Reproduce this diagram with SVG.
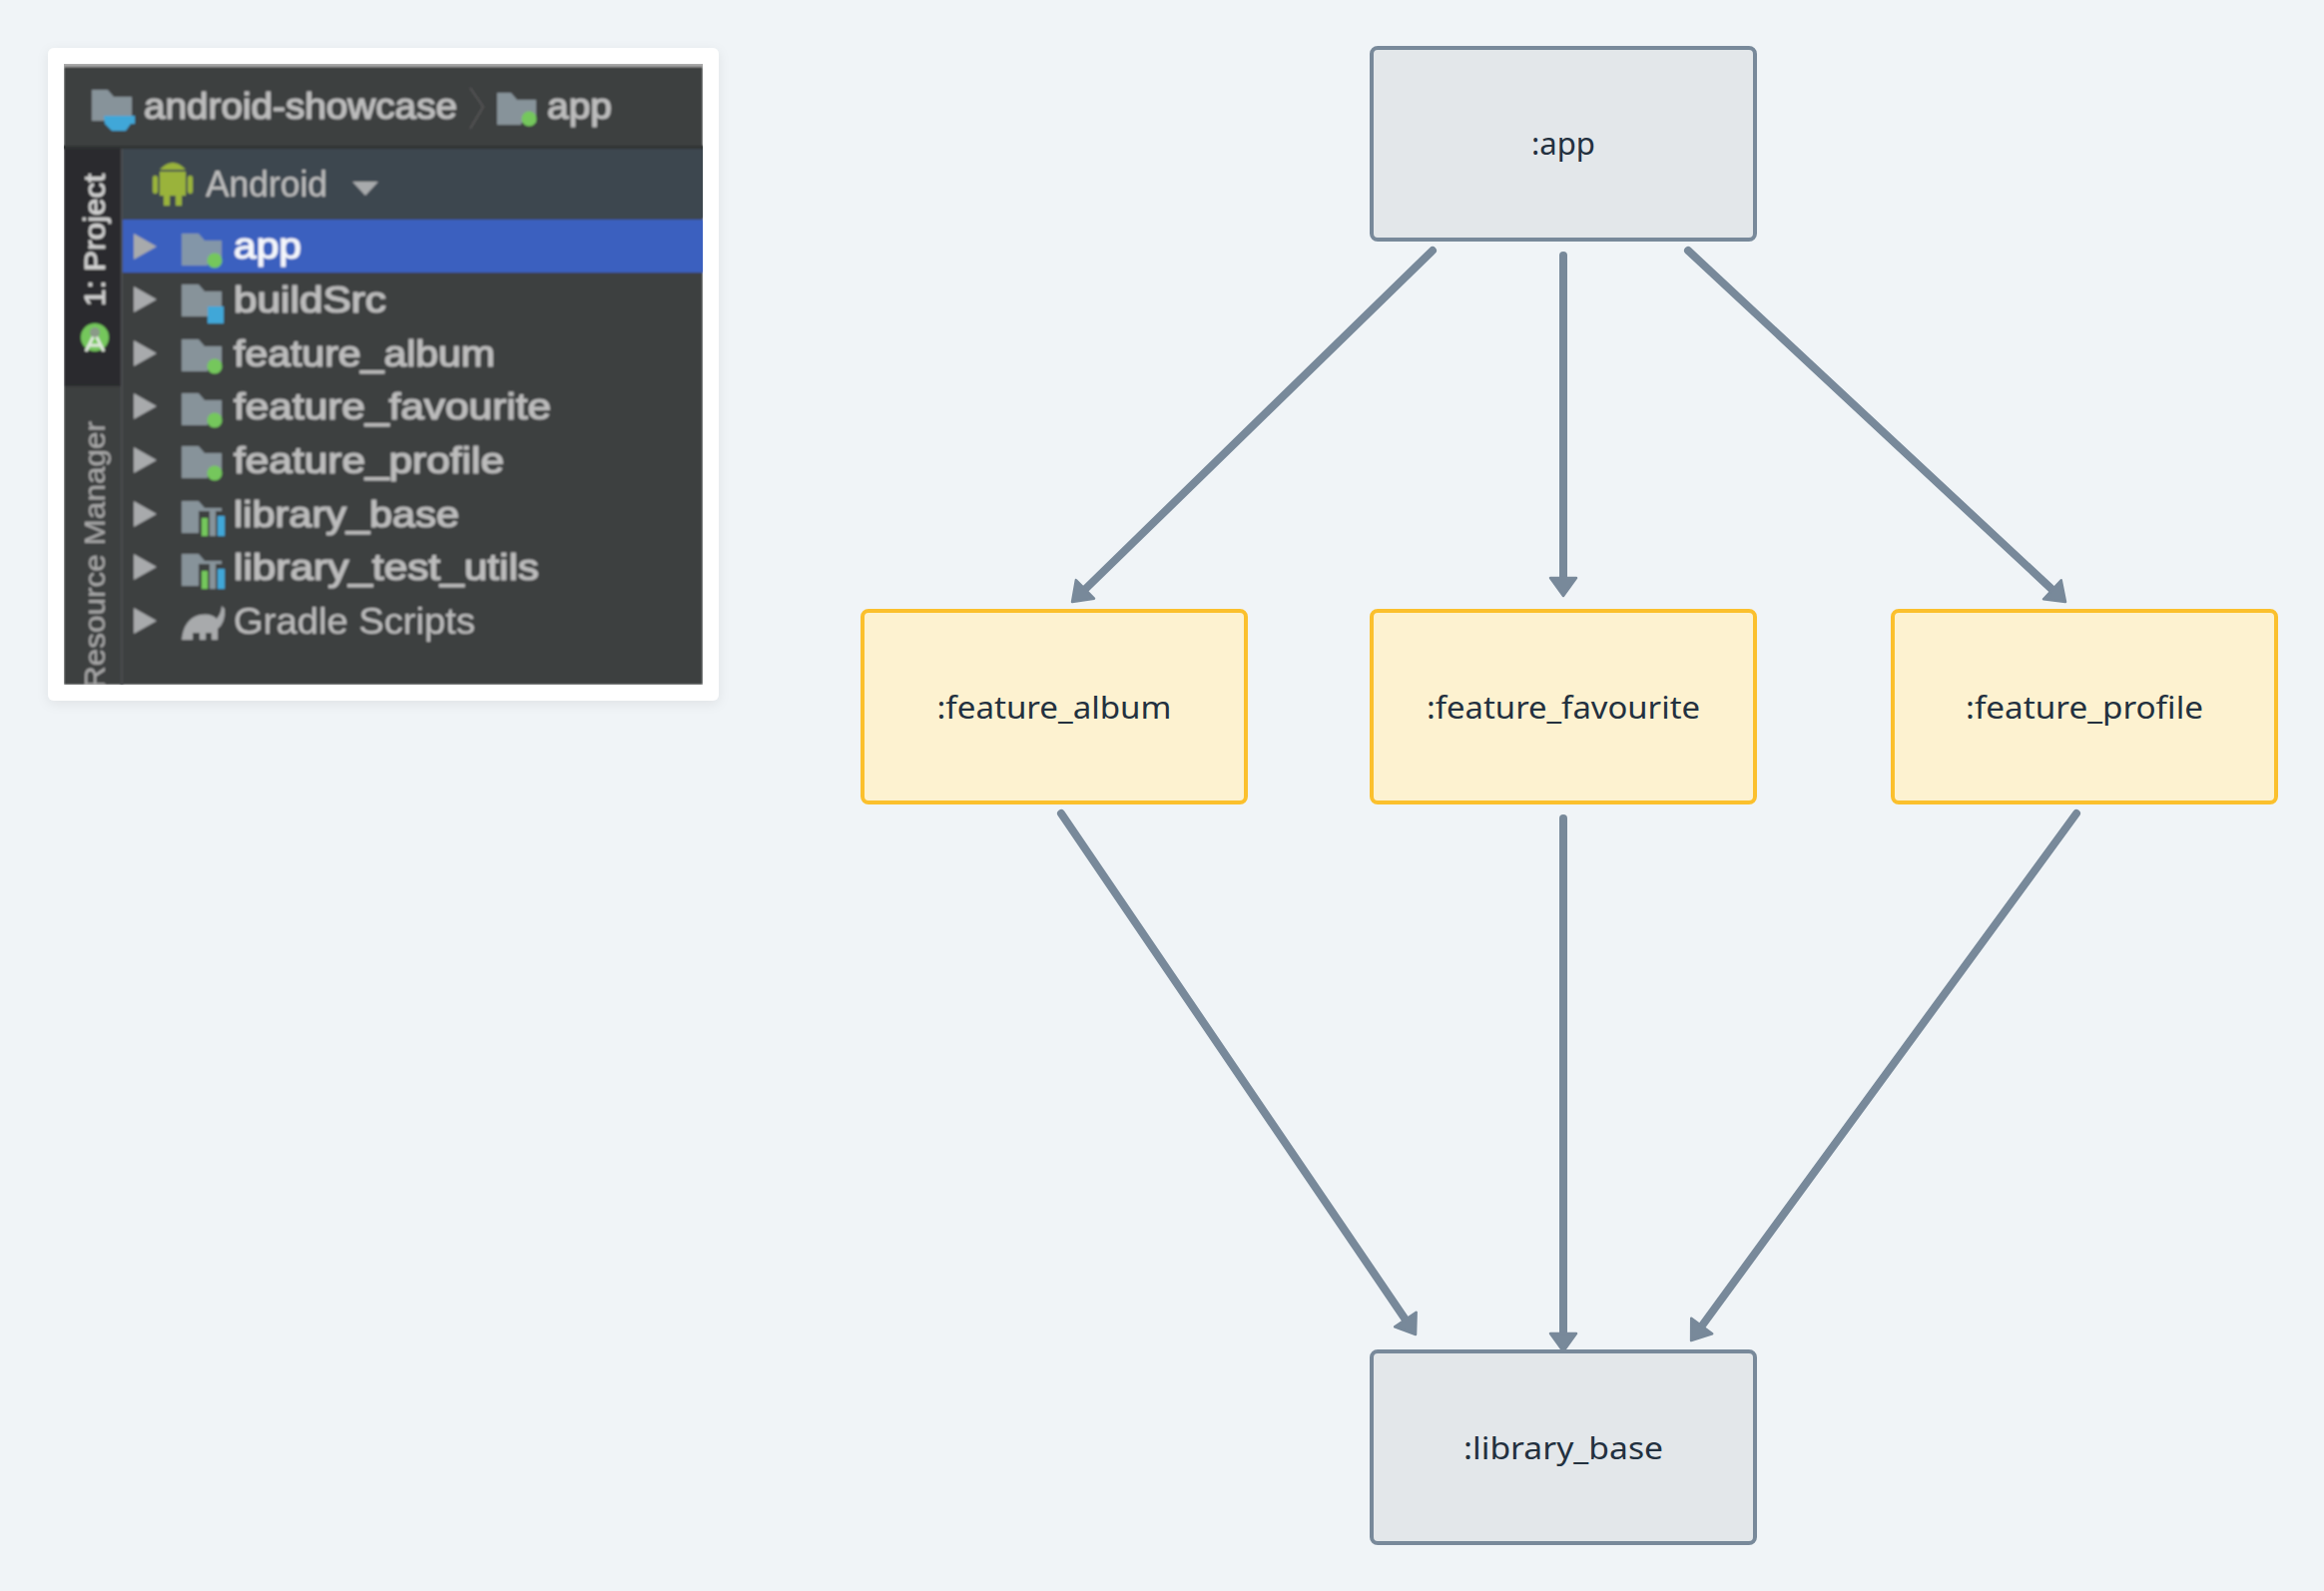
<svg xmlns="http://www.w3.org/2000/svg" width="2328" height="1594" viewBox="0 0 2328 1594">
<style>
.grey{fill:#e3e7ea;stroke:#78899a;stroke-width:4}
.feat{fill:#fdf2d0;stroke:#fbc02d;stroke-width:4}
.lbl{font-family:"Noto Sans","Liberation Sans",sans-serif;font-size:31px;fill:#23313f;text-anchor:middle}
.edge{fill:none;stroke:#78899a;stroke-width:8;stroke-linecap:round;marker-end:url(#arrow)}
.t{font-family:"Liberation Sans",Arial,sans-serif;font-size:36px;fill:#bcbcbc;stroke:#bcbcbc;stroke-width:1.2}
.n{stroke-width:.2}
.tri{fill:#a8aaac}
.folder{fill:#87939a}
.dot{fill:#74c75c}
</style>
<defs>
<marker id="arrow" markerUnits="userSpaceOnUse" markerWidth="44" markerHeight="44" viewBox="-10 -22 44 44" refX="8" refY="0" orient="auto" overflow="visible">
<path d="M0 -13 L18 0 L0 13 Z" fill="#78899a" stroke="#78899a" stroke-width="2.5" stroke-linejoin="round"/>
</marker>
<filter id="blur" x="-5%" y="-5%" width="110%" height="110%"><feGaussianBlur stdDeviation="1"/></filter>
<filter id="shadow" x="-10%" y="-10%" width="120%" height="120%"><feDropShadow dx="0" dy="3" stdDeviation="6" flood-color="#000" flood-opacity=".07"/></filter>
<clipPath id="shot"><rect x="64" y="64" width="640" height="622"/></clipPath>
<path id="fold" d="M0 0H17L23 7H40V25H26V32H0Z"/>
<path id="arrowtri" d="M0 -13L23 0L0 13Z"/>
</defs>
<rect width="2328" height="1594" fill="#f0f4f7"/>
<g id="screenshot">
<rect x="48" y="48" width="672" height="654" rx="6" fill="#fff" filter="url(#shadow)"/>
<g clip-path="url(#shot)">
<g filter="url(#blur)">
<rect x="64" y="64" width="640" height="622" fill="#3c3f41"/>
<rect x="60" y="62" width="650" height="5" fill="#a9a9a9"/>
<rect x="60" y="146" width="650" height="3" fill="#2f3133"/>
<rect x="64" y="149" width="57" height="238" fill="#2b2c2e"/>
<rect x="121" y="149" width="2" height="545" fill="#4b4e50"/>
<rect x="123" y="149" width="590" height="70" fill="#3d4650"/>
<rect x="123" y="220" width="590" height="53" fill="#3a60bf"/>
<path class="folder" d="M92 90H108L114 97H132V122H116V121H92Z"/>
<path d="M104 116H135V124H131L126 131H112L105 124Z" fill="#3fa7d8"/>
<path class="folder" d="M498 93H512L518 100H537V123H522V125H498Z"/>
<circle class="dot" cx="530" cy="119" r="7.5"/>
<text class="t" x="144" y="119" textLength="314" lengthAdjust="spacingAndGlyphs">android-showcase</text>
<text class="t" x="548" y="119" textLength="65" lengthAdjust="spacingAndGlyphs">app</text>
<path d="M471 88L484 107L471 129" fill="none" stroke="#555" stroke-width="2"/>
<g fill="#9ab33a">
<rect x="160" y="172" width="26" height="24"/>
<rect x="164" y="194" width="6" height="12"/>
<rect x="176" y="194" width="6" height="12"/>
<rect x="153" y="176" width="5" height="18" rx="2"/>
<rect x="188" y="176" width="5" height="18" rx="2"/>
<path d="M160 170Q173 156 186 170Z"/>
</g>
<text class="t n" x="206" y="197" textLength="122" lengthAdjust="spacingAndGlyphs">Android</text>
<path d="M353 182H379L366 196Z" fill="#a8aaac"/>
<use href="#arrowtri" class="tri" x="134" y="247"/>
<use href="#arrowtri" class="tri" x="134" y="300"/>
<use href="#arrowtri" class="tri" x="134" y="354"/>
<use href="#arrowtri" class="tri" x="134" y="407"/>
<use href="#arrowtri" class="tri" x="134" y="461"/>
<use href="#arrowtri" class="tri" x="134" y="515"/>
<use href="#arrowtri" class="tri" x="134" y="568"/>
<use href="#arrowtri" class="tri" x="134" y="622"/>
<use href="#fold" x="182" y="234" fill="#8396a8"/><circle class="dot" cx="215" cy="261" r="7.5"/>
<use href="#fold" class="folder" x="182" y="285"/><rect x="208" y="307" width="16" height="17" fill="#3fa7d8"/>
<use href="#fold" class="folder" x="182" y="340"/><circle class="dot" cx="215" cy="367" r="7.5"/>
<use href="#fold" class="folder" x="182" y="394"/><circle class="dot" cx="215" cy="421" r="7.5"/>
<use href="#fold" class="folder" x="182" y="447"/><circle class="dot" cx="215" cy="474" r="7.5"/>
<path class="folder" d="M182 502H199L205 509H222V534H182Z"/><rect x="199" y="512" width="26" height="26" fill="#3c3f41"/><rect x="202" y="519" width="6" height="18" fill="#74c75c"/><rect x="210" y="512" width="6" height="25" fill="#87939a"/><rect x="218" y="517" width="7" height="20" fill="#3fa7d8"/>
<path class="folder" d="M182 555H199L205 562H222V587H182Z"/><rect x="199" y="565" width="26" height="26" fill="#3c3f41"/><rect x="202" y="572" width="6" height="18" fill="#74c75c"/><rect x="210" y="565" width="6" height="25" fill="#87939a"/><rect x="218" y="570" width="7" height="20" fill="#3fa7d8"/>
<path d="M182 641Q184 620 200 616Q212 614 217 620Q222 614 222 607L225 610Q226 624 218 630V641H212V634H206V641H200V634H193V641Z" fill="#a8aaac"/>
<text class="t" x="234" y="259" textLength="68" lengthAdjust="spacingAndGlyphs" style="fill:#f4f6fb;stroke:#f4f6fb">app</text>
<text class="t" x="234" y="313" textLength="153" lengthAdjust="spacingAndGlyphs">buildSrc</text>
<text class="t" x="234" y="367" textLength="262" lengthAdjust="spacingAndGlyphs">feature_album</text>
<text class="t" x="234" y="420" textLength="318" lengthAdjust="spacingAndGlyphs">feature_favourite</text>
<text class="t" x="234" y="474" textLength="271" lengthAdjust="spacingAndGlyphs">feature_profile</text>
<text class="t" x="234" y="528" textLength="226" lengthAdjust="spacingAndGlyphs">library_base</text>
<text class="t" x="234" y="581" textLength="306" lengthAdjust="spacingAndGlyphs">library_test_utils</text>
<text class="t n" x="234" y="635" textLength="242" lengthAdjust="spacingAndGlyphs">Gradle Scripts</text>
<g transform="translate(105 307) rotate(-90)"><text class="t" x="0" y="0" style="font-size:30px;fill:#d0d0d0;stroke:#d0d0d0;stroke-width:.8" textLength="133" lengthAdjust="spacingAndGlyphs">1: Project</text></g>
<circle cx="95" cy="338" r="14" fill="#74c75c"/><path d="M86 352L95 334L104 352M89 346H101" fill="none" stroke="#dfe8dc" stroke-width="3"/><circle cx="95" cy="333" r="5" fill="#8a9a88"/>
<g transform="translate(105 690) rotate(-90)"><text class="t n" x="0" y="0" style="font-size:30px;fill:#a8a8a8;stroke:#a8a8a8" textLength="268" lengthAdjust="spacingAndGlyphs">Resource Manager</text></g>
</g>
</g>
</g>
<g id="connectors">
<path class="edge" d="M1435 251L1081.2 596"/>
<path class="edge" d="M1566 256V587"/>
<path class="edge" d="M1691 251L2061.7 596.2"/>
<path class="edge" d="M1063 815L1412.4 1328.7"/>
<path class="edge" d="M1566 820V1344"/>
<path class="edge" d="M2080 815L1700 1335"/>
</g>
<g id="app"><rect class="grey" x="1374" y="48" width="384" height="192" rx="6"/><text class="lbl" x="1566" y="155" textLength="64" lengthAdjust="spacingAndGlyphs">:app</text></g>
<g id="feature_album"><rect class="feat" x="864" y="612" width="384" height="192" rx="6"/><text class="lbl" x="1056" y="720" textLength="235" lengthAdjust="spacingAndGlyphs">:feature_album</text></g>
<g id="feature_favourite"><rect class="feat" x="1374" y="612" width="384" height="192" rx="6"/><text class="lbl" x="1566" y="720" textLength="274" lengthAdjust="spacingAndGlyphs">:feature_favourite</text></g>
<g id="feature_profile"><rect class="feat" x="1896" y="612" width="384" height="192" rx="6"/><text class="lbl" x="2088" y="720" textLength="238" lengthAdjust="spacingAndGlyphs">:feature_profile</text></g>
<g id="library_base"><rect class="grey" x="1374" y="1354" width="384" height="192" rx="6"/><text class="lbl" x="1566" y="1462" textLength="200" lengthAdjust="spacingAndGlyphs">:library_base</text></g>
</svg>
